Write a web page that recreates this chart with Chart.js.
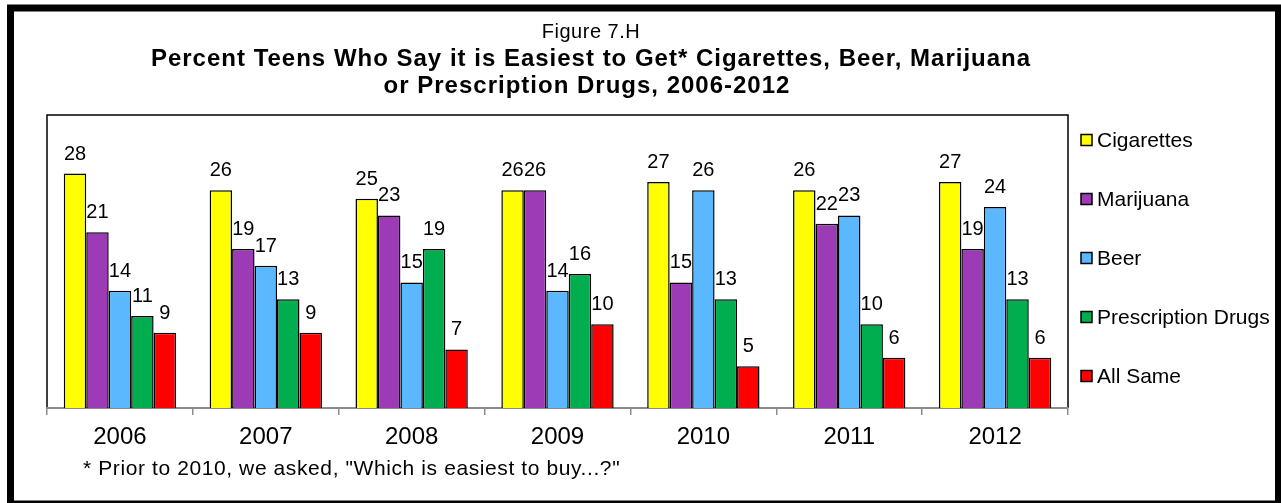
<!DOCTYPE html>
<html>
<head>
<meta charset="utf-8">
<title>Figure 7.H</title>
<script src="https://cdn.jsdelivr.net/npm/chart.js@4.4.1/dist/chart.umd.min.js"></script>
<style>
    html, body { margin: 0; padding: 0; background: #fff; }
    canvas { display: block; }
</style>
</head>
<body>
<canvas id="easiestChart" width="1281" height="503"></canvas>
<script>
// Data
const years = ['2006', '2007', '2008', '2009', '2010', '2011', '2012'];
const cigarettes = [28, 26, 25, 26, 27, 26, 27];
const marijuana = [21, 19, 23, 26, 15, 22, 19];
const beer = [14, 17, 15, 14, 26, 23, 24];
const prescriptionDrugs = [11, 13, 19, 16, 13, 10, 13];
const allSame = [9, 9, 7, 10, 5, 6, 6];

const seriesNames = ['Cigarettes', 'Marijuana', 'Beer', 'Prescription Drugs', 'All Same'];
const seriesColors = ['#ffff00', '#9d3bb6', '#5bb8ff', '#00ae50', '#ff0000'];

const FONT = '"Liberation Sans", Arial, sans-serif';

document.addEventListener('DOMContentLoaded', () => {
    initEasiestChart();
});

function initEasiestChart() {
    const ctx = document.getElementById('easiestChart');
    const values = [cigarettes, marijuana, beer, prescriptionDrugs, allSame];

    const datasets = seriesNames.map((name, i) => ({
        label: name,
        data: values[i],
        backgroundColor: seriesColors[i],
        borderColor: '#000',
        borderWidth: 1.5,
        borderSkipped: 'bottom',
        categoryPercentage: 0.77,
        barPercentage: 1.0
    }));

    new Chart(ctx, {
        type: 'bar',
        data: { labels: years, datasets: datasets },
        options: {
            responsive: false,
            animation: false,
            devicePixelRatio: 1,
            layout: {
                padding: { left: 47, right: 213, top: 115, bottom: 55 }
            },
            plugins: {
                legend: { display: false },
                tooltip: { enabled: false }
            },
            scales: {
                x: {
                    grid: {
                        offset: true,
                        drawOnChartArea: false,
                        drawTicks: true,
                        tickLength: 7,
                        color: '#8c8c8c',
                        lineWidth: 1.5
                    },
                    border: { color: '#8c8c8c', width: 2 },
                    ticks: {
                        color: '#000',
                        padding: 8,
                        font: { family: FONT, size: 24 }
                    },
                    afterFit: (scale) => { scale.height = 40; }
                },
                y: {
                    display: false,
                    min: 0,
                    max: 35
                }
            }
        },
        plugins: [frameAndTextPlugin, barLabelPlugin, legendPlugin]
    });
}

// Outer frame, plot box, titles and footnote
const frameAndTextPlugin = {
    id: 'frameAndText',
    beforeDraw(chart) {
        const c = chart.ctx;
        const a = chart.chartArea;
        c.save();
        c.fillStyle = '#fff';
        c.fillRect(0, 0, chart.width, chart.height);

        c.strokeStyle = '#000';
        c.lineWidth = 7;
        c.strokeRect(10.5, 8, 1268, 496);

        // plot box (top, left, right) - bottom is the axis
        c.lineWidth = 1.5;
        c.beginPath();
        c.moveTo(a.left, a.bottom);
        c.lineTo(a.left, a.top);
        c.lineTo(a.right, a.top);
        c.lineTo(a.right, a.bottom);
        c.stroke();

        c.fillStyle = '#000';
        c.textAlign = 'center';
        c.textBaseline = 'alphabetic';
        c.letterSpacing = '0.5px';
        c.font = '20px ' + FONT;
        c.fillText('Figure 7.H', 591, 38);
        c.letterSpacing = '1px';
        c.font = 'bold 24px ' + FONT;
        c.fillText('Percent Teens Who Say it is Easiest to Get* Cigarettes, Beer, Marijuana', 591, 66);
        c.fillText('or Prescription Drugs, 2006-2012', 587, 93);

        c.textAlign = 'left';
        c.letterSpacing = '0.6px';
        c.font = '21px ' + FONT;
        c.fillText('* Prior to 2010, we asked, "Which is easiest to buy...?"', 83, 475);
        c.letterSpacing = '0px';
        c.restore();
    }
};

// Value labels above each bar
const barLabelPlugin = {
    id: 'barLabels',
    afterDatasetsDraw(chart) {
        const c = chart.ctx;
        c.save();
        c.fillStyle = '#000';
        c.font = '20px ' + FONT;
        c.textAlign = 'center';
        c.textBaseline = 'alphabetic';
        chart.data.datasets.forEach((ds, i) => {
            chart.getDatasetMeta(i).data.forEach((bar, j) => {
                c.fillText(String(ds.data[j]), bar.x, bar.y - 14);
            });
        });
        c.restore();
    }
};

// Legend on the right with small square keys
const legendPlugin = {
    id: 'sideLegend',
    afterDraw(chart) {
        const c = chart.ctx;
        const x = chart.chartArea.right + 13;
        const firstY = 140;
        const step = 59;
        c.save();
        c.font = '21px ' + FONT;
        c.textAlign = 'left';
        c.textBaseline = 'middle';
        chart.data.datasets.forEach((ds, i) => {
            const y = firstY + i * step;
            c.fillStyle = ds.backgroundColor;
            c.fillRect(x, y - 5.5, 11, 11);
            c.strokeStyle = '#000';
            c.lineWidth = 1.5;
            c.strokeRect(x, y - 5.5, 11, 11);
            c.fillStyle = '#000';
            c.fillText(ds.label, x + 16, y + 1);
        });
        c.restore();
    }
};
</script>
</body>
</html>
